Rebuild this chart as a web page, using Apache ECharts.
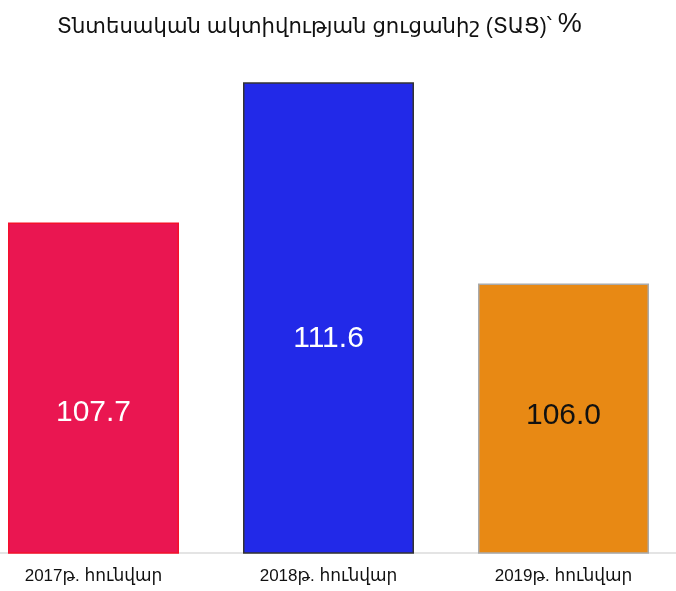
<!DOCTYPE html>
<html>
<head>
<meta charset="utf-8">
<script src="https://cdn.jsdelivr.net/npm/echarts@6/dist/echarts.min.js"></script>
<style>html,body{margin:0;padding:0;background:#fff;overflow:hidden;width:676px;height:591px}#c{width:705px;height:591px;margin-left:-24px}</style>
</head>
<body>
<div id="c"></div>
<script>
const categories = ['2017թ. հունվար', '2018թ. հունվար', '2019թ. հունվար'];
const values = [107.7, 111.6, 106.0];
const barColors = ['#EA1651', '#2229E8', '#E88914'];
const borderColors = ['#F5102C', '#333333', '#AAAAAA'];
const labelColors = ['#FFFFFF', '#FFFFFF', '#111111'];
const labelOffsets = [25, 21, -3];

const FONT = '"Liberation Sans", "DejaVu Sans", Arial, sans-serif';
const chart = echarts.init(document.getElementById('c'), null, {renderer: 'canvas'});
chart.setOption({
  animation: false,
  backgroundColor: '#ffffff',
  title: {
    text: '{a|Տնտեսական ակտիվության ցուցանիշ (ՏԱՑ)՝ }{b|%}',
    left: 76,
    top: 6,
    textStyle: {
      fontWeight: 'normal',
      rich: {
        a: {fontFamily: FONT, fontSize: 21.2, fontWeight: 'normal', color: '#111', verticalAlign: 'bottom'},
        b: {fontFamily: FONT, fontSize: 27, fontWeight: 'normal', color: '#111', verticalAlign: 'bottom'}
      }
    }
  },
  grid: {left: 0, right: 0, top: 68, bottom: 38, containLabel: false},
  xAxis: {
    type: 'category',
    data: categories,
    axisLine: {show: true, lineStyle: {color: '#e4e4e4', width: 2}},
    axisTick: {show: false},
    axisLabel: {fontFamily: FONT, fontSize: 17, color: '#111', margin: 15}
  },
  yAxis: {
    type: 'value',
    min: 98.5,
    max: 112,
    show: false,
    splitLine: {show: false}
  },
  series: [{
    type: 'bar',
    barWidth: 171,
    data: values.map((v, i) => ({
      value: v,
      itemStyle: {color: barColors[i], borderColor: borderColors[i], borderWidth: 1.5},
      label: {color: labelColors[i], offset: [0, labelOffsets[i]]}
    })),
    label: {
      show: true,
      position: 'inside',
      fontFamily: FONT,
      fontSize: 30,
      formatter: p => p.value.toFixed(1)
    }
  }]
});
</script>
</body>
</html>
